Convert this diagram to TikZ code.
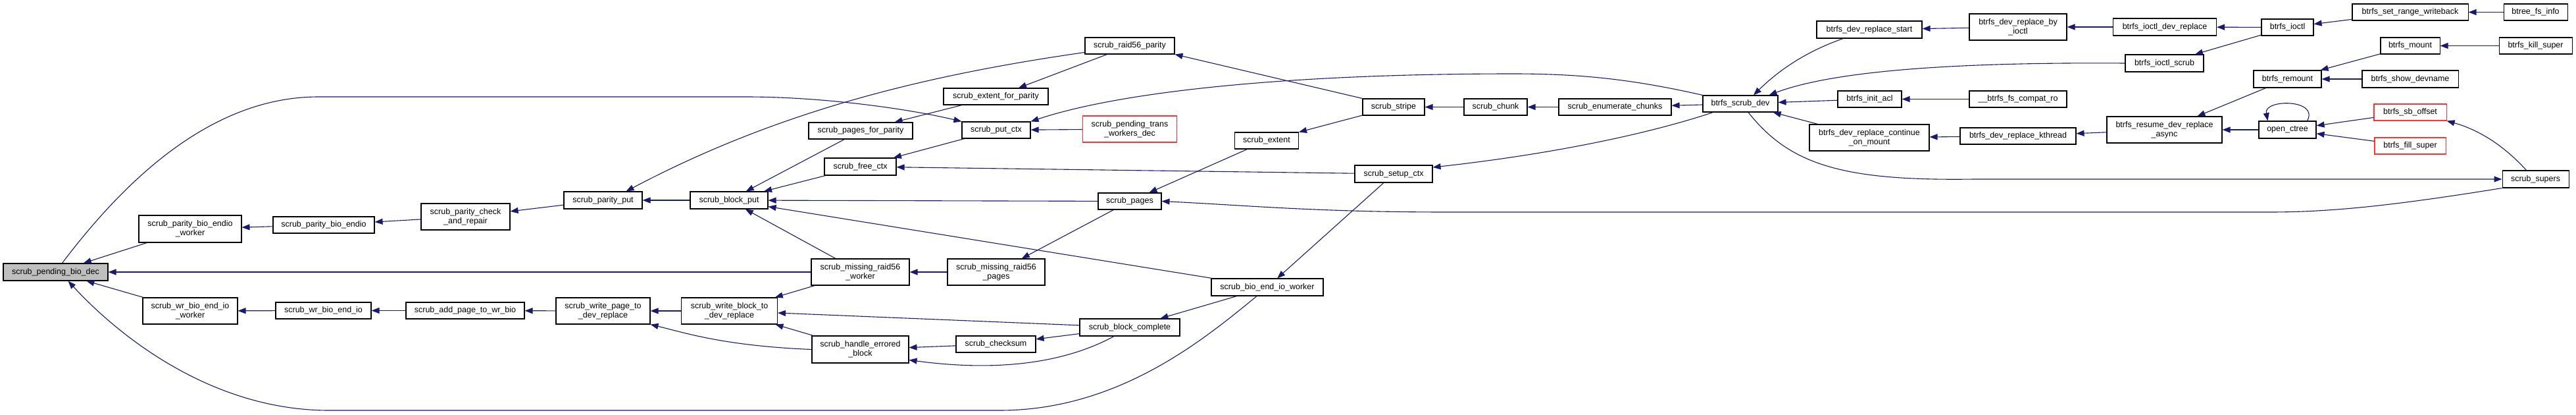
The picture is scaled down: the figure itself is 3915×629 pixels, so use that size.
\documentclass[tikz,border=0pt]{standalone}
\usepackage{fontspec}
\setmainfont{Liberation Sans}
\usetikzlibrary{arrows.meta}
\definecolor{edgec}{HTML}{191970}
\definecolor{nodegray}{HTML}{BFBFBF}
\definecolor{redborder}{HTML}{FF3333}
\begin{document}
\begin{tikzpicture}[x=1pt,y=-1pt,
  fn/.style={draw=black,line width=1.1pt,fill=white,inner sep=0pt,align=center,
    font=\fontsize{12.5}{14.3}\selectfont},
  sz/.style 2 args={minimum width=#1pt,minimum height=#2pt},
  rednode/.style={draw=redborder},
  edg/.style={draw=edgec,line width=1.1pt,-{Triangle[length=12pt,width=9pt]}}]
\useasboundingbox[fill=white] (0,0) rectangle (3915,629);

% nodes
\node[fn,sz={159}{26},fill=nodegray] (pend) at (84.5,413) {scrub\_pending\_bio\_dec};
\node[fn,sz={156}{41}] (pbew) at (289,347.5) {scrub\_parity\_bio\_endio\\\_worker};
\node[fn,sz={154}{25}] (pbe) at (492,341.5) {scrub\_parity\_bio\_endio};
\node[fn,sz={144}{40}] (wbew) at (289,472) {scrub\_wr\_bio\_end\_io\\\_worker};
\node[fn,sz={145}{25}] (wbe) at (491.5,471.5) {scrub\_wr\_bio\_end\_io};
\node[fn,sz={135}{40}] (pcr) at (707.5,329) {scrub\_parity\_check\\\_and\_repair};
\node[fn,sz={180}{25}] (apw) at (707,471.5) {scrub\_add\_page\_to\_wr\_bio};
\node[fn,sz={119}{26}] (ppput) at (916.5,304) {scrub\_parity\_put};
\node[fn,sz={143}{40}] (wpage) at (916.5,472) {scrub\_write\_page\_to\\\_dev\_replace};
\node[fn,sz={118}{26}] (bput) at (1108,304) {scrub\_block\_put};
\node[fn,sz={146}{40}] (wblock) at (1108.5,472) {scrub\_write\_block\_to\\\_dev\_replace};
\node[fn,sz={158}{25}] (pfp) at (1308,198.5) {scrub\_pages\_for\_parity};
\node[fn,sz={109}{26}] (free) at (1307.5,253) {scrub\_free\_ctx};
\node[fn,sz={149}{40}] (mrw) at (1307.5,413) {scrub\_missing\_raid56\\\_worker};
\node[fn,sz={147}{41}] (hbe) at (1307.5,530.5) {scrub\_handle\_errored\\\_block};
\node[fn,sz={159}{25}] (efp) at (1513.5,146.5) {scrub\_extent\_for\_parity};
\node[fn,sz={104}{25}] (putctx) at (1514,197.5) {scrub\_put\_ctx};
\node[fn,sz={148}{40}] (mrp) at (1514,413) {scrub\_missing\_raid56\\\_pages};
\node[fn,sz={121}{25}] (chk) at (1513.5,522.5) {scrub\_checksum};
\node[fn,sz={136}{25}] (raid) at (1717,69.5) {scrub\_raid56\_parity};
\node[fn,sz={143}{40},rednode] (ptwd) at (1717,196) {scrub\_pending\_trans\\\_workers\_dec};
\node[fn,sz={96}{25}] (pages) at (1717,305.5) {scrub\_pages};
\node[fn,sz={152}{26}] (bcomp) at (1717,497) {scrub\_block\_complete};
\node[fn,sz={97}{25}] (extent) at (1925,213.5) {scrub\_extent};
\node[fn,sz={170}{26}] (bioend) at (1926,436) {scrub\_bio\_end\_io\_worker};
\node[fn,sz={94}{25}] (stripe) at (2118,162.5) {scrub\_stripe};
\node[fn,sz={118}{26}] (setup) at (2118,264) {scrub\_setup\_ctx};
\node[fn,sz={96}{25}] (chunk) at (2273,162.5) {scrub\_chunk};
\node[fn,sz={171}{25}] (enum) at (2454.5,162.5) {scrub\_enumerate\_chunks};
\node[fn,sz={114}{25}] (sdev) at (2645,157.5) {btrfs\_scrub\_dev};
\node[fn,sz={160}{26}] (drstart) at (2841,45) {btrfs\_dev\_replace\_start};
\node[fn,sz={97}{25}] (initacl) at (2841.5,150.5) {btrfs\_init\_acl};
\node[fn,sz={182}{40}] (contmount) at (2841,209) {btrfs\_dev\_replace\_continue\\\_on\_mount};
\node[fn,sz={148}{40}] (byioctl) at (3067,41) {btrfs\_dev\_replace\_by\\\_ioctl};
\node[fn,sz={148}{25}] (compat) at (3067,150.5) {\_\_btrfs\_fs\_compat\_ro};
\node[fn,sz={176}{25}] (kthread) at (3067,206.5) {btrfs\_dev\_replace\_kthread};
\node[fn,sz={157}{26}] (iodr) at (3290,41) {btrfs\_ioctl\_dev\_replace};
\node[fn,sz={119}{26}] (ioscrub) at (3289.5,96) {btrfs\_ioctl\_scrub};
\node[fn,sz={175}{40}] (resume) at (3289.5,197) {btrfs\_resume\_dev\_replace\\\_async};
\node[fn,sz={79}{25}] (ioctl) at (3476.5,41.5) {btrfs\_ioctl};
\node[fn,sz={176}{25}] (srw) at (3663,18.5) {btrfs\_set\_range\_writeback};
\node[fn,sz={97}{25}] (btree) at (3853.5,18.5) {btree\_fs\_info};
\node[fn,sz={90}{25}] (mount) at (3663,69.5) {btrfs\_mount};
\node[fn,sz={111}{25}] (kill) at (3853.5,69.5) {btrfs\_kill\_super};
\node[fn,sz={103}{26}] (remount) at (3476.5,120) {btrfs\_remount};
\node[fn,sz={146}{26}] (showdev) at (3663,120) {btrfs\_show\_devname};
\node[fn,sz={87}{26}] (octree) at (3476.5,197) {open\_ctree};
\node[fn,sz={110}{25},rednode] (sboff) at (3663,170.5) {btrfs\_sb\_offset};
\node[fn,sz={108}{25},rednode] (fill) at (3663,221.5) {btrfs\_fill\_super};
\node[fn,sz={101}{26}] (supers) at (3853.5,272) {scrub\_supers};

% straight edges (arrow at callee, the second node)
\foreach \b/\a in {pbew/pend, wbew/pend, mrw/pend, pbe/pbew, pcr/pbe, ppput/pcr,
  bput/ppput, wbe/wbew, apw/wbe, wpage/apw, wblock/wpage, pfp/bput, free/bput,
  pages/bput, mrw/bput, bioend/bput, efp/pfp, putctx/free, ptwd/putctx, raid/efp,
  mrw/wblock, bcomp/wblock, hbe/wblock, mrp/mrw, pages/mrp, chk/hbe, bcomp/chk,
  bioend/bcomp, setup/bioend, extent/pages, stripe/extent, chunk/stripe,
  enum/chunk, sdev/enum, initacl/sdev, contmount/sdev, byioctl/drstart,
  iodr/byioctl, ioctl/iodr, ioctl/ioscrub, srw/ioctl, btree/srw, compat/initacl,
  kthread/contmount, resume/kthread, remount/resume, octree/resume, mount/remount,
  showdev/remount, kill/mount, sboff/octree, fill/octree, setup/free}
  \draw[edg] (\b) -- (\a);
\draw[edg] (stripe.north west) -- (raid.south east);

% curved edges
\draw[edg] ([xshift=10pt]pend.north) .. controls (200,260) and (330,147) .. (484,147)
  -- (1134,147) .. controls (1250,147) and (1380,165) .. (putctx.north west);
\draw[edg] ([yshift=-10pt]raid.west) .. controls (1400,115) and (1180,170) .. ([xshift=35pt]ppput.north);
\draw[edg] (sdev.north west) .. controls (2480,120) and (2400,112) .. (2300,112)
  .. controls (1950,112) and (1700,140) .. (putctx.north east);
\draw[edg] (supers.south west) .. controls (3650,310) and (3550,322) .. (3450,322)
  -- (2200,322) .. controls (2000,322) and (1900,312) .. (pages.east);
\draw[edg] ([xshift=16pt]sdev.south west) .. controls (2500,205) and (2350,235) .. ([yshift=10pt]setup.east);
\draw[edg] ([xshift=12pt]sdev.south) .. controls (2720,250) and (2800,275) .. (3000,272) -- (supers.west);
\draw[edg] (ioscrub.west) .. controls (2950,94) and (2780,110) .. ([xshift=-14pt]sdev.north east);
\draw[edg] ([xshift=-40pt]drstart.south) .. controls (2740,80) and (2700,110) .. ([xshift=20pt]sdev.north);
\draw[edg] ([xshift=-16pt]bioend.south) .. controls (1830,515) and (1700,623) .. (1519,623)
  -- (500,623) .. controls (330,623) and (190,520) .. ([xshift=19pt]pend.south);
\draw[edg] (hbe.west) .. controls (1100,525) and (1040,505) .. (wpage.south east);
\draw[edg] ([xshift=-24pt]bcomp.south) .. controls (1620,550) and (1520,565) .. ([yshift=-16pt]hbe.east);
\draw[edg] ([xshift=30pt]octree.north) .. controls (3525,150) and (3440,150) .. ([xshift=-30pt]octree.north);
\draw[edg] ([xshift=-14pt]supers.north) .. controls (3800,215) and (3760,195) .. (sboff.south east);
\end{tikzpicture}
\end{document}
